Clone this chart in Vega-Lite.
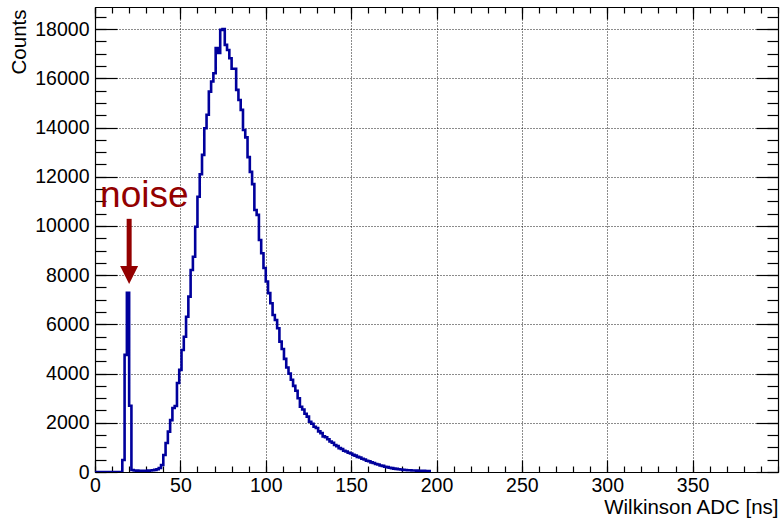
{
  "$schema": "https://vega.github.io/schema/vega-lite/v6.json",
  "width": 683,
  "height": 465,
  "autosize": {"type": "none"},
  "padding": {"left": 95, "top": 7, "right": 2, "bottom": 48},
  "background": "white",
  "config": {
    "view": {"stroke": null},
    "font": "Liberation Sans",
    "axis": {
      "labelFont": "Liberation Sans",
      "labelFontSize": 19.5,
      "labelColor": "#000000",
      "titleFont": "Liberation Sans",
      "titleFontSize": 20.5,
      "titleFontWeight": "normal",
      "titleColor": "#000000",
      "domainColor": "#000000",
      "domainWidth": 1.2,
      "tickColor": "#000000",
      "tickWidth": 1.2,
      "gridColor": "#000000",
      "gridDash": [1, 2],
      "gridWidth": 1,
      "gridOpacity": 0.9
    }
  },
  "datasets": {
    "hist": [
      {"x": 0, "counts": 0},
      {"x": 1.33, "counts": 0},
      {"x": 2.67, "counts": 0},
      {"x": 4, "counts": 0},
      {"x": 5.33, "counts": 0},
      {"x": 6.67, "counts": 0},
      {"x": 8, "counts": 0},
      {"x": 9.33, "counts": 0},
      {"x": 10.67, "counts": 0},
      {"x": 12, "counts": 0},
      {"x": 13.33, "counts": 0},
      {"x": 14.67, "counts": 0},
      {"x": 16, "counts": 490},
      {"x": 17.33, "counts": 4760},
      {"x": 18.67, "counts": 7280},
      {"x": 20, "counts": 2690},
      {"x": 21.33, "counts": 80},
      {"x": 22.67, "counts": 60},
      {"x": 24, "counts": 55},
      {"x": 25.33, "counts": 50},
      {"x": 26.67, "counts": 50},
      {"x": 28, "counts": 45},
      {"x": 29.33, "counts": 50},
      {"x": 30.67, "counts": 55},
      {"x": 32, "counts": 60},
      {"x": 33.33, "counts": 70},
      {"x": 34.67, "counts": 85},
      {"x": 36, "counts": 110},
      {"x": 37.33, "counts": 160},
      {"x": 38.67, "counts": 285},
      {"x": 40, "counts": 690},
      {"x": 41.33, "counts": 1180},
      {"x": 42.67, "counts": 1640},
      {"x": 44, "counts": 2110},
      {"x": 45.33, "counts": 2600},
      {"x": 46.67, "counts": 2680},
      {"x": 48, "counts": 3620},
      {"x": 49.33, "counts": 4150},
      {"x": 50.67, "counts": 4960},
      {"x": 52, "counts": 5500},
      {"x": 53.33, "counts": 6310},
      {"x": 54.67, "counts": 7130},
      {"x": 56, "counts": 8210},
      {"x": 57.33, "counts": 8750},
      {"x": 58.67, "counts": 9970},
      {"x": 60, "counts": 11190},
      {"x": 61.33, "counts": 12100},
      {"x": 62.67, "counts": 12890},
      {"x": 64, "counts": 13970},
      {"x": 65.33, "counts": 14520},
      {"x": 66.67, "counts": 15460},
      {"x": 68, "counts": 15870},
      {"x": 69.33, "counts": 16210},
      {"x": 70.67, "counts": 17230},
      {"x": 72, "counts": 17030},
      {"x": 73.33, "counts": 17970},
      {"x": 74.67, "counts": 18000},
      {"x": 76, "counts": 17360},
      {"x": 77.33, "counts": 17150},
      {"x": 78.67, "counts": 16820},
      {"x": 80, "counts": 16390},
      {"x": 81.33, "counts": 16390},
      {"x": 82.67, "counts": 15530},
      {"x": 84, "counts": 15120},
      {"x": 85.33, "counts": 14720},
      {"x": 86.67, "counts": 13900},
      {"x": 88, "counts": 13600},
      {"x": 89.33, "counts": 12800},
      {"x": 90.67, "counts": 12200},
      {"x": 92, "counts": 11700},
      {"x": 93.33, "counts": 10650},
      {"x": 94.67, "counts": 10450},
      {"x": 96, "counts": 9430},
      {"x": 97.33, "counts": 8890},
      {"x": 98.67, "counts": 8290},
      {"x": 100, "counts": 7740},
      {"x": 101.33, "counts": 7270},
      {"x": 102.67, "counts": 6860},
      {"x": 104, "counts": 6380},
      {"x": 105.33, "counts": 6180},
      {"x": 106.67, "counts": 5840},
      {"x": 108, "counts": 5300},
      {"x": 109.33, "counts": 5000},
      {"x": 110.67, "counts": 4600},
      {"x": 112, "counts": 4250},
      {"x": 113.33, "counts": 4000},
      {"x": 114.67, "counts": 3750},
      {"x": 116, "counts": 3500},
      {"x": 117.33, "counts": 3300},
      {"x": 118.67, "counts": 3000},
      {"x": 120, "counts": 2650},
      {"x": 121.33, "counts": 2540},
      {"x": 122.67, "counts": 2370},
      {"x": 124, "counts": 2250},
      {"x": 125.33, "counts": 2040},
      {"x": 126.67, "counts": 1960},
      {"x": 128, "counts": 1840},
      {"x": 129.33, "counts": 1790},
      {"x": 130.67, "counts": 1650},
      {"x": 132, "counts": 1580},
      {"x": 133.33, "counts": 1450},
      {"x": 134.67, "counts": 1410},
      {"x": 136, "counts": 1330},
      {"x": 137.33, "counts": 1240},
      {"x": 138.67, "counts": 1190},
      {"x": 140, "counts": 1100},
      {"x": 141.33, "counts": 1050},
      {"x": 142.67, "counts": 970},
      {"x": 144, "counts": 935},
      {"x": 145.33, "counts": 865},
      {"x": 146.67, "counts": 835},
      {"x": 148, "counts": 785},
      {"x": 149.33, "counts": 755},
      {"x": 150.67, "counts": 695},
      {"x": 152, "counts": 665},
      {"x": 153.33, "counts": 615},
      {"x": 154.67, "counts": 590},
      {"x": 156, "counts": 540},
      {"x": 157.33, "counts": 510},
      {"x": 158.67, "counts": 460},
      {"x": 160, "counts": 435},
      {"x": 161.33, "counts": 390},
      {"x": 162.67, "counts": 365},
      {"x": 164, "counts": 325},
      {"x": 165.33, "counts": 305},
      {"x": 166.67, "counts": 265},
      {"x": 168, "counts": 250},
      {"x": 169.33, "counts": 215},
      {"x": 170.67, "counts": 200},
      {"x": 172, "counts": 172},
      {"x": 173.33, "counts": 158},
      {"x": 174.67, "counts": 138},
      {"x": 176, "counts": 127},
      {"x": 177.33, "counts": 110},
      {"x": 178.67, "counts": 102},
      {"x": 180, "counts": 88},
      {"x": 181.33, "counts": 83},
      {"x": 182.67, "counts": 74},
      {"x": 184, "counts": 69},
      {"x": 185.33, "counts": 61},
      {"x": 186.67, "counts": 59},
      {"x": 188, "counts": 54},
      {"x": 189.33, "counts": 53},
      {"x": 190.67, "counts": 49},
      {"x": 192, "counts": 47},
      {"x": 193.33, "counts": 43},
      {"x": 194.67, "counts": 40},
      {"x": 196, "counts": 0}
    ],
    "note": [{"x": 3, "counts": 10790, "label": "noise"}],
    "arrow": [{"x": 20, "top": 10290, "bottom": 8300, "head": 8010}]
  },
  "layer": [
    {
      "data": {"name": "hist"},
      "mark": {"type": "line", "interpolate": "step-after", "color": "#00009c", "strokeWidth": 2.6, "clip": true},
      "encoding": {
        "x": {
          "field": "x", "type": "quantitative",
          "scale": {"domain": [0, 400], "nice": false, "zero": false},
          "axis": {
            "orient": "bottom",
            "values": [0, 50, 100, 150, 200, 250, 300, 350],
            "tickSize": -12,
            "labelPadding": 16,
            "labelFlush": false,
            "labelOverlap": false,
            "grid": true,
            "title": "Wilkinson ADC [ns]",
            "titleX": 683,
            "titleY": 41,
            "titleAlign": "right",
            "titleAnchor": "end",
            "titleBaseline": "alphabetic"
          }
        },
        "y": {
          "field": "counts", "type": "quantitative",
          "scale": {"domain": [0, 18900], "nice": false},
          "axis": {
            "orient": "left",
            "values": [0, 2000, 4000, 6000, 8000, 10000, 12000, 14000, 16000, 18000],
            "tickSize": -22,
            "labelPadding": 28,
            "labelFlush": false,
            "labelOverlap": false,
            "format": "d",
            "grid": true,
            "title": "Counts",
            "titleX": -70,
            "titleY": 2,
            "titleAngle": 270,
            "titleAlign": "right",
            "titleAnchor": "end",
            "titleBaseline": "alphabetic"
          }
        }
      }
    },
    {
      "data": {"name": "hist"},
      "mark": {"type": "line", "opacity": 0},
      "encoding": {
        "x": {
          "field": "x", "type": "quantitative",
          "axis": {
            "orient": "bottom",
            "values": [0,10,20,30,40,50,60,70,80,90,100,110,120,130,140,150,160,170,180,190,200,210,220,230,240,250,260,270,280,290,300,310,320,330,340,350,360,370,380,390,400],
            "tickSize": -6, "labels": false, "domain": false, "grid": false, "title": null
          }
        },
        "y": {
          "field": "counts", "type": "quantitative",
          "axis": {
            "orient": "left",
            "values": [0,500,1000,1500,2000,2500,3000,3500,4000,4500,5000,5500,6000,6500,7000,7500,8000,8500,9000,9500,10000,10500,11000,11500,12000,12500,13000,13500,14000,14500,15000,15500,16000,16500,17000,17500,18000,18500],
            "tickSize": -11, "labels": false, "domain": false, "grid": false, "title": null
          }
        }
      }
    },
    {
      "data": {"name": "hist"},
      "mark": {"type": "line", "opacity": 0},
      "encoding": {
        "x": {
          "field": "x", "type": "quantitative",
          "axis": {
            "orient": "top",
            "values": [0, 50, 100, 150, 200, 250, 300, 350],
            "tickSize": -12, "labels": false, "domain": true, "grid": false, "title": null
          }
        },
        "y": {
          "field": "counts", "type": "quantitative",
          "axis": {
            "orient": "right",
            "values": [0, 2000, 4000, 6000, 8000, 10000, 12000, 14000, 16000, 18000],
            "tickSize": -22, "labels": false, "domain": true, "grid": false, "title": null
          }
        }
      }
    },
    {
      "data": {"name": "hist"},
      "mark": {"type": "line", "opacity": 0},
      "encoding": {
        "x": {
          "field": "x", "type": "quantitative",
          "axis": {
            "orient": "top",
            "values": [0,10,20,30,40,50,60,70,80,90,100,110,120,130,140,150,160,170,180,190,200,210,220,230,240,250,260,270,280,290,300,310,320,330,340,350,360,370,380,390,400],
            "tickSize": -6, "labels": false, "domain": false, "grid": false, "title": null
          }
        },
        "y": {
          "field": "counts", "type": "quantitative",
          "axis": {
            "orient": "right",
            "values": [0,500,1000,1500,2000,2500,3000,3500,4000,4500,5000,5500,6000,6500,7000,7500,8000,8500,9000,9500,10000,10500,11000,11500,12000,12500,13000,13500,14000,14500,15000,15500,16000,16500,17000,17500,18000,18500],
            "tickSize": -11, "labels": false, "domain": false, "grid": false, "title": null
          }
        }
      }
    },
    {
      "data": {"name": "note"},
      "mark": {"type": "text", "align": "left", "baseline": "alphabetic", "fontSize": 37, "font": "Liberation Sans", "color": "#930000"},
      "encoding": {
        "x": {"field": "x", "type": "quantitative", "axis": null},
        "y": {"field": "counts", "type": "quantitative", "axis": null},
        "text": {"field": "label"}
      }
    },
    {
      "data": {"name": "arrow"},
      "mark": {"type": "rule", "color": "#930000", "strokeWidth": 5},
      "encoding": {
        "x": {"field": "x", "type": "quantitative", "axis": null},
        "y": {"field": "top", "type": "quantitative", "axis": null},
        "y2": {"field": "bottom"}
      }
    },
    {
      "data": {"name": "arrow"},
      "mark": {"type": "point", "shape": "M-1,-1L1,-1L0,1Z", "filled": true, "size": 324, "color": "#930000", "opacity": 1},
      "encoding": {
        "x": {"field": "x", "type": "quantitative", "axis": null},
        "y": {"field": "head", "type": "quantitative", "axis": null}
      }
    }
  ],
  "resolve": {"axis": {"x": "independent", "y": "independent"}}
}
